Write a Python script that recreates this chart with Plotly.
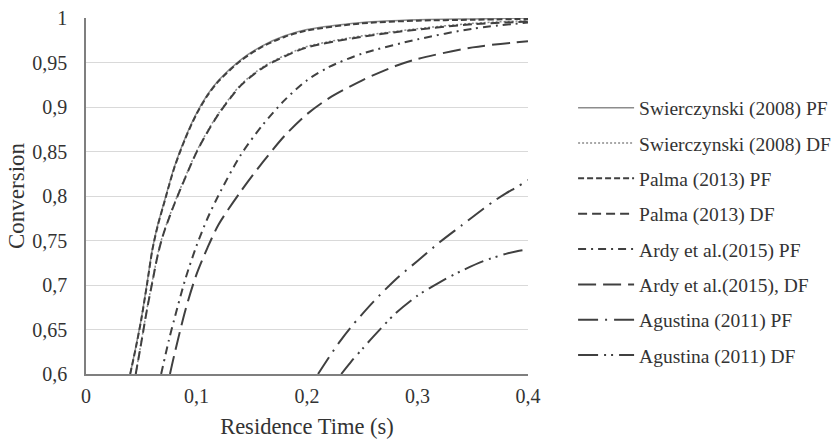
import plotly.graph_objects as go

# ---- data ----
t_swi_pf = [0.040, 0.045, 0.050, 0.055, 0.060, 0.065, 0.070, 0.080, 0.090, 0.100, 0.110, 0.120, 0.140, 0.160, 0.180, 0.200, 0.250, 0.300, 0.350, 0.400]
x_swi_pf = [0.600, 0.630, 0.662, 0.700, 0.740, 0.768, 0.790, 0.833, 0.866, 0.893, 0.914, 0.930, 0.953, 0.969, 0.980, 0.987, 0.995, 0.998, 0.999, 1.000]

t_swi_df = [0.045, 0.050, 0.055, 0.060, 0.065, 0.070, 0.080, 0.090, 0.100, 0.110, 0.120, 0.140, 0.160, 0.180, 0.200, 0.250, 0.300, 0.350, 0.400]
x_swi_df = [0.600, 0.636, 0.672, 0.704, 0.735, 0.758, 0.792, 0.822, 0.850, 0.873, 0.893, 0.925, 0.945, 0.958, 0.968, 0.980, 0.988, 0.994, 0.997]

t_pal_pf = [0.040, 0.045, 0.050, 0.055, 0.060, 0.065, 0.070, 0.080, 0.090, 0.100, 0.110, 0.120, 0.140, 0.160, 0.180, 0.200, 0.250, 0.300, 0.350, 0.400]
x_pal_pf = [0.600, 0.629, 0.661, 0.699, 0.739, 0.767, 0.789, 0.832, 0.865, 0.892, 0.913, 0.929, 0.952, 0.968, 0.979, 0.986, 0.994, 0.997, 0.998, 0.999]

t_pal_df = [0.045, 0.050, 0.055, 0.060, 0.065, 0.070, 0.080, 0.090, 0.100, 0.110, 0.120, 0.140, 0.160, 0.180, 0.200, 0.250, 0.300, 0.350, 0.400]
x_pal_df = [0.600, 0.635, 0.671, 0.703, 0.734, 0.757, 0.791, 0.821, 0.849, 0.872, 0.892, 0.924, 0.944, 0.957, 0.967, 0.979, 0.987, 0.993, 0.996]

t_ardy_pf = [0.068, 0.075, 0.080, 0.090, 0.100, 0.110, 0.120, 0.140, 0.160, 0.180, 0.200, 0.220, 0.250, 0.300, 0.350, 0.400]
x_ardy_pf = [0.600, 0.638, 0.662, 0.707, 0.744, 0.775, 0.801, 0.846, 0.880, 0.908, 0.930, 0.945, 0.960, 0.976, 0.988, 0.995]

t_ardy_df = [0.076, 0.080, 0.090, 0.100, 0.110, 0.120, 0.140, 0.160, 0.180, 0.200, 0.220, 0.250, 0.280, 0.300, 0.350, 0.400]
x_ardy_df = [0.600, 0.622, 0.672, 0.712, 0.742, 0.768, 0.805, 0.838, 0.868, 0.892, 0.910, 0.930, 0.946, 0.954, 0.967, 0.974]

t_agu_pf = [0.210, 0.220, 0.230, 0.240, 0.260, 0.280, 0.300, 0.320, 0.340, 0.360, 0.370, 0.380, 0.390, 0.400]
x_agu_pf = [0.600, 0.619, 0.637, 0.653, 0.681, 0.706, 0.727, 0.748, 0.767, 0.786, 0.795, 0.803, 0.810, 0.818]

t_agu_df = [0.231, 0.240, 0.250, 0.260, 0.280, 0.300, 0.320, 0.340, 0.360, 0.380, 0.390, 0.400]
x_agu_df = [0.600, 0.614, 0.628, 0.642, 0.668, 0.688, 0.703, 0.716, 0.727, 0.735, 0.738, 0.740]

series_names = [
    "Swierczynski (2008) PF", "Swierczynski (2008) DF",
    "Palma (2013) PF", "Palma (2013) DF",
    "Ardy et al.(2015) PF", "Ardy et al.(2015), DF",
    "Agustina (2011) PF", "Agustina (2011) DF",
]

y_tick_vals = [0.6, 0.65, 0.7, 0.75, 0.8, 0.85, 0.9, 0.95, 1.0]
y_tick_text = ["0,6", "0,65", "0,7", "0,75", "0,8", "0,85", "0,9", "0,95", "1"]
x_tick_vals = [0, 0.1, 0.2, 0.3, 0.4]
x_tick_text = ["0", "0,1", "0,2", "0,3", "0,4"]

# ---- styling ----
FONT = "Liberation Serif"
DARK = "#404040"
LIGHT = "#8c8c8c"
TXT = "#333333"
styles = [
    dict(color=LIGHT, width=1.5, dash="solid"),
    dict(color=LIGHT, width=1.5, dash="2px,2px"),
    dict(color=DARK, width=2, dash="6px,3px"),
    dict(color=DARK, width=2, dash="9px,5px"),
    dict(color=DARK, width=2, dash="8px,5px,2px,5px"),
    dict(color=DARK, width=2, dash="18px,7px"),
    dict(color=DARK, width=2, dash="20px,7px,2px,7px"),
    dict(color=DARK, width=2, dash="20px,6px,2px,5px,2px,6px"),
]
data = [
    (t_swi_pf, x_swi_pf), (t_swi_df, x_swi_df),
    (t_pal_pf, x_pal_pf), (t_pal_df, x_pal_df),
    (t_ardy_pf, x_ardy_pf), (t_ardy_df, x_ardy_df),
    (t_agu_pf, x_agu_pf), (t_agu_df, x_agu_df),
]

fig = go.Figure()
for i, ((tx, xv), name, st) in enumerate(zip(data, series_names, styles)):
    fig.add_trace(go.Scatter(
        x=tx, y=xv, name=name, mode="lines",
        line=dict(shape="spline", smoothing=0.8, **st),
        legendgroup=f"g{i}",
    ))

fig.update_layout(
    width=837, height=439,
    margin=dict(l=86, r=309, t=18, b=65, autoexpand=False),
    paper_bgcolor="white", plot_bgcolor="white",
    font=dict(family=FONT, size=20, color=TXT),
    showlegend=True,
    legend=dict(
        x=1.102, xanchor="left", y=0.802, yanchor="top",
        font=dict(family=FONT, size=19.5, color=TXT),
        tracegroupgap=7, itemwidth=56,
        bgcolor="rgba(0,0,0,0)",
    ),
    xaxis=dict(
        range=[0, 0.4], tickvals=x_tick_vals, ticktext=x_tick_text,
        showgrid=False, zeroline=False, automargin=False,
        showline=True, linecolor="#7f7f7f", linewidth=1.5,
        ticks="outside", ticklen=3, tickcolor="rgba(0,0,0,0)",
        ticklabeloverflow="allow",
        title=dict(text="Residence Time (s)", standoff=20,
                   font=dict(family=FONT, size=22.5, color=TXT)),
    ),
    yaxis=dict(
        range=[0.6, 1.0], tickvals=y_tick_vals, ticktext=y_tick_text,
        showgrid=True, gridcolor="#d9d9d9", gridwidth=1,
        zeroline=False, automargin=False,
        showline=True, linecolor="#7f7f7f", linewidth=1.5,
        ticks="outside", ticklen=13, tickcolor="rgba(0,0,0,0)",
        ticklabeloverflow="allow",
        title=dict(text="Conversion", standoff=1,
                   font=dict(family=FONT, size=23, color=TXT)),
    ),
)

# remove the browser's default 8px page margin so the figure fills the window
fig.write_html("out.html", config={"displayModeBar": False},
               post_script="document.body.style.margin='0';")
